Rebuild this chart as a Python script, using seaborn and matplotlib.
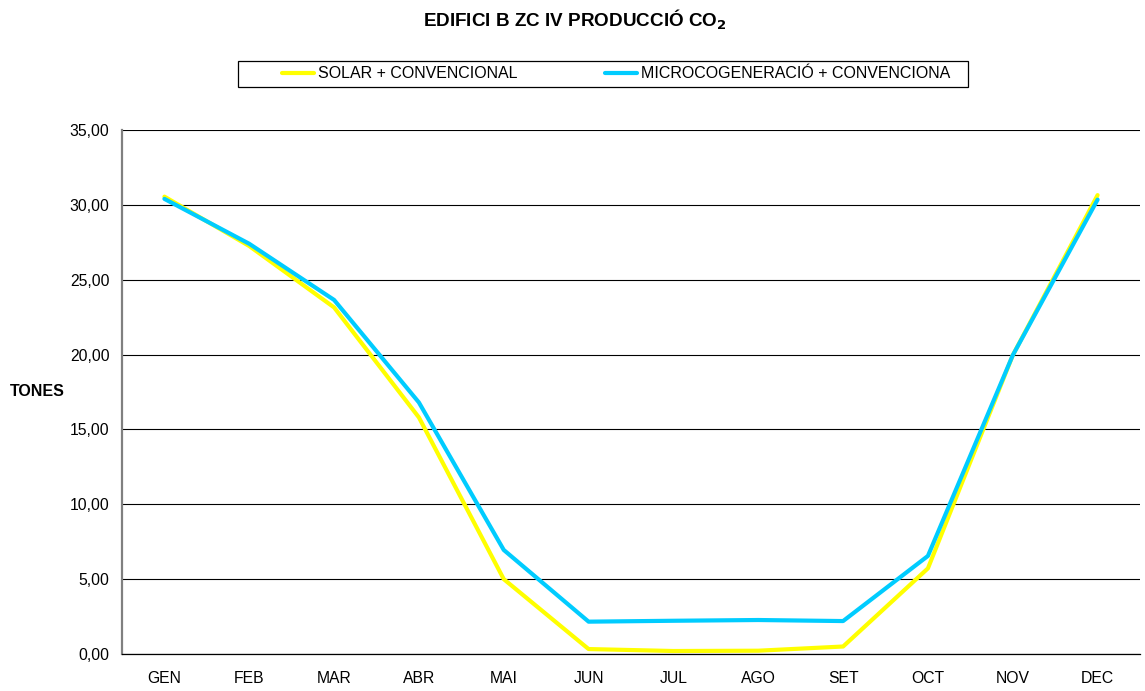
import numpy as np
import pandas as pd
import matplotlib
matplotlib.use("Agg")
import matplotlib.pyplot as plt
from matplotlib.ticker import FuncFormatter, FixedLocator
from matplotlib.patches import Rectangle
import seaborn as sns

months = ["GEN", "FEB", "MAR", "ABR", "MAI", "JUN", "JUL", "AGO", "SET", "OCT", "NOV", "DEC"]
solar_conv = [30.55, 27.25, 23.15, 15.8, 5.0, 0.33, 0.2, 0.22, 0.5, 5.72, 19.95, 30.65]
micro_conv = [30.4, 27.4, 23.65, 16.8, 6.95, 2.16, 2.22, 2.27, 2.2, 6.55, 19.95, 30.35]
series_names = ["SOLAR + CONVENCIONAL", "MICROCOGENERACIÓ + CONVENCIONA"]
y_ticks = [0, 5, 10, 15, 20, 25, 30, 35]

df = pd.DataFrame({
    "pos": list(range(len(months))) * 2,
    "tones": solar_conv + micro_conv,
    "serie": [series_names[0]] * len(months) + [series_names[1]] * len(months),
})

sns.set_style("white")
plt.rcParams["font.family"] = ["Liberation Sans", "DejaVu Sans"]
plt.rcParams["text.color"] = "black"
plt.rcParams["xtick.color"] = "black"
plt.rcParams["ytick.color"] = "black"
plt.rcParams["axes.labelcolor"] = "black"

FS = 11.3

fig = plt.figure(figsize=(11.45, 6.91), dpi=100)
ax = fig.add_axes([122 / 1145, 37 / 691, 1018 / 1145, 524 / 691])

sns.lineplot(data=df, x="pos", y="tones", hue="serie",
             palette=["#FFFF00", "#00CCFF"], linewidth=3, ax=ax,
             legend=True, sort=False)

ax.set_xlim(-0.5, len(months) - 0.5)
ax.set_ylim(0, 35)
ax.yaxis.set_major_locator(FixedLocator(y_ticks))
ax.yaxis.set_major_formatter(FuncFormatter(lambda v, p: f"{v:.2f}".replace(".", ",")))
ax.grid(axis="y", color="black", linewidth=0.8)
ax.set_axisbelow(True)

# month labels at bin centres, tick marks at bin boundaries
ax.set_xticks(range(len(months)))
ax.set_xticklabels(months)
ax.set_xticks(np.arange(-0.5, len(months), 1.0), minor=True)
ax.tick_params(axis="x", which="major", length=0, pad=12, labelsize=FS, labelcolor="black")
ax.tick_params(axis="x", which="minor", length=4, width=0.8, color="black", direction="out")
ax.tick_params(axis="y", length=5, width=0.8, color="black", direction="out", labelsize=FS,
               pad=4, labelcolor="black")

for s in ["top", "right"]:
    ax.spines[s].set_visible(False)
ax.spines["left"].set_color("#808080")
ax.spines["left"].set_linewidth(1.6)
ax.spines["bottom"].set_color("black")
ax.spines["bottom"].set_linewidth(0.9)
ax.set_xlabel("")
ax.set_ylabel("")

fig.text(10 / 1145, 1 - 392 / 691, "TONES", fontsize=11.5, fontweight="bold", va="center",
         ha="left", color="black")
fig.text(575 / 1145, 1 - 20 / 691, r"EDIFICI B ZC IV PRODUCCIÓ CO$_\mathbf{2}$", fontsize=13.6,
         fontweight="bold", ha="center", va="center", color="black")

handles, labels = ax.get_legend_handles_labels()
ax.get_legend().remove()
fig.legend(handles, labels, loc="center left", bbox_to_anchor=(282 / 1145, 1 - 74 / 691),
           ncol=2, frameon=False, fontsize=11.5, handlelength=2.0, handletextpad=0.25,
           columnspacing=5.5, borderaxespad=0, borderpad=0, labelcolor="black")
fig.patches.append(Rectangle((238 / 1145, 1 - 87 / 691), 730 / 1145, 26 / 691,
                             transform=fig.transFigure, fill=False, edgecolor="black",
                             linewidth=0.9))

fig.savefig("out.png", dpi=100)
